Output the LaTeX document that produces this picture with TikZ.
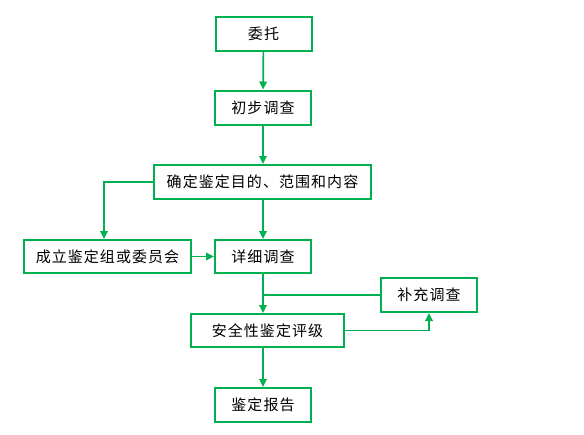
\documentclass[tikz,border=0pt]{standalone}
\usepackage{fontspec}
\newfontfamily\cjk[LetterSpace=7]{Noto Sans CJK SC}
\usetikzlibrary{arrows.meta}
\definecolor{flowgreen}{RGB}{0,176,80}

\begin{document}
\begin{tikzpicture}[
  x=1pt, y=-1pt,
  box/.style={draw=flowgreen, line width=2pt, fill=white,
              minimum width=96pt, minimum height=34pt,
              font=\cjk\fontsize{15pt}{17pt}\selectfont, inner sep=2pt},
  flow/.style={-{Triangle[length=8pt,width=7.5pt]}, line width=1.7pt, flowgreen},
  link/.style={line width=1.7pt, flowgreen}
]
\useasboundingbox (0,0) rectangle (584,434);

\node[box] (wt) at (263.5,33.5) {委托};
\node[box] (cb) at (263,107.5)  {初步调查};
\node[box, minimum width=217pt] (qd) at (262.5,182) {确定鉴定目的、范围和内容};
\node[box, minimum width=167pt, minimum height=33pt] (cl) at (107.5,256.5) {成立鉴定组或委员会};
\node[box, minimum height=33pt] (xx) at (263,256.5) {详细调查};
\node[box] (bc) at (429,295) {补充调查};
\node[box, minimum width=153pt, minimum height=33pt] (aq) at (267.5,330.5) {安全性鉴定评级};
\node[box] (bg) at (263,405) {鉴定报告};

% main column
\draw[flow] (wt) -- (cb);
\draw[flow] (cb) -- (cb |- qd.north);
\draw[flow] (qd.south -| xx) -- (xx);
\draw[flow] (xx) -- (xx |- aq.north);
\draw[flow] (aq.south -| bg) -- (bg);

% side branches
\draw[flow] (qd.west) -| ([xshift=-3.5pt]cl.north);
\draw[flow] (cl) -- (xx);
\draw[flow] (aq.east) -| (bc.south);
\draw[link] (bc.west) -- (bc.west -| xx.south);

\end{tikzpicture}
\end{document}
